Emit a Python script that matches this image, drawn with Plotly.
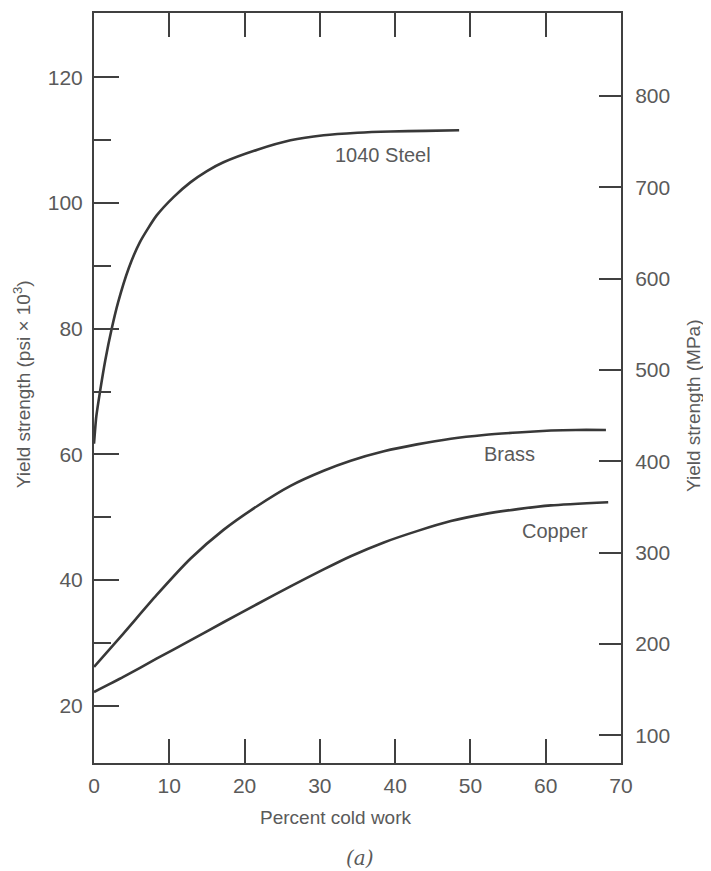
import plotly.graph_objects as go

# ---- data ----
steel_x = [0, 0.3, 0.8, 1.5, 2.35, 3.2, 4.6, 6.1, 8.3, 10.6, 12.8, 15, 17.2, 21.7, 26.1, 30.5, 35, 39.4, 44, 48.5]
steel_y = [61.7, 66, 70, 75, 80, 84.2, 89.6, 93.8, 98.0, 101.0, 103.3, 105.1, 106.5, 108.5, 110.0, 110.8, 111.2, 111.4, 111.5, 111.6]

brass_x = [0, 3.9, 8.3, 12.8, 17.2, 21.7, 26.1, 30.5, 34.1, 38.5, 42.9, 47.4, 51.8, 56.3, 60.7, 64, 68]
brass_y = [26.2, 31.5, 37.6, 43.4, 48.0, 51.8, 55.0, 57.4, 59.0, 60.5, 61.6, 62.5, 63.1, 63.5, 63.8, 63.9, 63.9]

copper_x = [0, 3.9, 8.3, 12.8, 17.2, 21.7, 26.1, 30.5, 34.1, 38.5, 42.9, 47.4, 51.8, 56.3, 60.7, 68.3]
copper_y = [22.2, 24.6, 27.5, 30.4, 33.3, 36.2, 39.0, 41.7, 43.8, 46.0, 47.8, 49.4, 50.5, 51.3, 51.9, 52.4]

x_ticks = [0, 10, 20, 30, 40, 50, 60, 70]
psi_ticks = [20, 40, 60, 80, 100, 120]
psi_minor = [30, 50, 70, 90, 110]
mpa_ticks = [100, 200, 300, 400, 500, 600, 700, 800]

labels = ["1040 Steel", "Brass", "Copper"]
label_x = [38.4, 55.2, 61.2]
label_y = [107.7, 60.0, 47.8]

LINE = "#383838"
AX = "#404040"
TXT = "#5a5a5a"
FONT = "Liberation Sans, Arial, sans-serif"

fig = go.Figure()
for xs, ys in [(steel_x, steel_y), (brass_x, brass_y), (copper_x, copper_y)]:
    fig.add_trace(go.Scatter(x=xs, y=ys, mode="lines", line=dict(color=LINE, width=2.6, shape="spline", smoothing=0.6),
                             showlegend=False, hoverinfo="skip"))
# invisible trace so the right axis is drawn
fig.add_trace(go.Scatter(x=[0], y=[100], yaxis="y2", mode="markers", marker=dict(opacity=0), showlegend=False, hoverinfo="skip"))

for t, xv, yv in zip(labels, label_x, label_y):
    fig.add_annotation(x=xv, y=yv, text=t, showarrow=False, font=dict(family=FONT, size=20, color=TXT))

common = dict(xref="paper", yref="paper", showarrow=False, xanchor="center", yanchor="middle")
fig.add_annotation(x=-0.1366, y=0.505, text="Yield strength (psi × 10<sup>3</sup>)", textangle=-90,
                   font=dict(family=FONT, size=19, color=TXT), **common)
fig.add_annotation(x=1.1366, y=0.476, text="Yield strength (MPa)", textangle=-90,
                   font=dict(family=FONT, size=19, color=TXT), **common)
fig.add_annotation(x=0.46, y=-0.0731, text="Percent cold work",
                   font=dict(family=FONT, size=19, color=TXT), **common)
fig.add_annotation(x=0.505, y=-0.1263, text="<i>(a)</i>",
                   font=dict(family="DejaVu Serif, serif", size=20, color=TXT), **common)

fig.update_layout(
    width=695, height=863, autosize=False,
    margin=dict(l=86, r=82, t=3, b=108),
    paper_bgcolor="white", plot_bgcolor="white",
    showlegend=False,
    xaxis=dict(range=[0, 70], tickmode="array", tickvals=x_ticks, ticks="inside", ticklen=24, tickwidth=1.5,
               tickcolor=AX, showline=True, linecolor=AX, linewidth=2, mirror="ticks", showgrid=False,
               zeroline=False, tickfont=dict(family=FONT, size=21, color=TXT), ticklabelstandoff=3),
    yaxis=dict(range=[10.9, 130.25], tickmode="array", tickvals=psi_ticks, ticks="inside", ticklen=25, tickwidth=1.5,
               tickcolor=AX, showline=True, linecolor=AX, linewidth=2, showgrid=False, zeroline=False,
               minor=dict(tickmode="array", tickvals=psi_minor, ticks="inside", ticklen=17, tickwidth=1.5, tickcolor=AX, showgrid=False),
               tickfont=dict(family=FONT, size=21, color=TXT), ticklabelstandoff=5),
    yaxis2=dict(range=[69.5, 891], overlaying="y", side="right", anchor="x", tickmode="array", tickvals=mpa_ticks,
                ticks="inside", ticklen=22, tickwidth=1.5, tickcolor=AX, showline=True, linecolor=AX, linewidth=2,
                showgrid=False, zeroline=False, tickfont=dict(family=FONT, size=21, color=TXT), ticklabelstandoff=8),
)

fig.write_html("out.html")
